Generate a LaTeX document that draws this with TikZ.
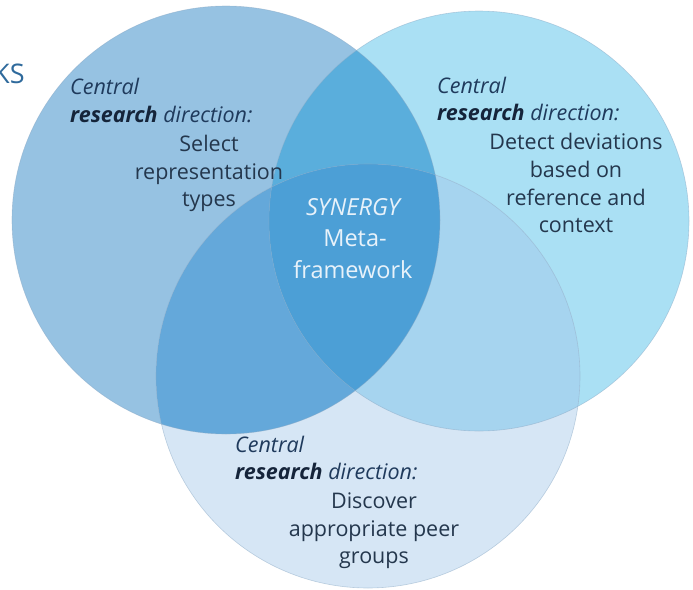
\documentclass[tikz,border=0pt]{standalone}
\usepackage{fontspec}
\setmainfont{Open Sans}
\definecolor{cL}{HTML}{96C2E2}
\definecolor{cR}{HTML}{AAE0F4}
\definecolor{cB}{HTML}{D6E6F5}
\definecolor{cLR}{HTML}{5AAEDC}
\definecolor{cLB}{HTML}{64A8DA}
\definecolor{cRB}{HTML}{A6D4EF}
\definecolor{cLRB}{HTML}{4C9FD6}
\definecolor{edge}{HTML}{8AA8C4}
\definecolor{navy}{HTML}{1F3A5C}
\definecolor{dark}{HTML}{15243A}
\definecolor{body}{HTML}{24374D}
\definecolor{head}{HTML}{2F6A9C}
\definecolor{wtext}{HTML}{E8F2FA}
\tikzset{
  lab/.style={inner sep=0pt, font=\fontsize{21.5}{25}\selectfont, text=body},
  hd/.style={lab, anchor=base west},
  ln/.style={lab, anchor=base},
  ctr/.style={inner sep=0pt, anchor=base, font=\fontsize{23.5}{27}\selectfont, text=wtext},
  rim/.style={draw=edge, line width=0.6pt, draw opacity=0.5}
}
\newcommand{\rdhead}{{\color{navy}\itshape Central}}
\newcommand{\rdline}{{\color{dark}\bfseries\itshape research} {\color{navy}\itshape direction:}}
\begin{document}
\begin{tikzpicture}[x=1pt,y=-1pt]
\useasboundingbox (0,0) rectangle (693,589);
\coordinate (L) at (226,220);
\coordinate (R) at (479,221);
\coordinate (B) at (368,376);
\def\rL{214pt}\def\rR{210pt}\def\rB{212pt}
% base circles
\fill[cL] (L) circle[radius=\rL];
\fill[cR] (R) circle[radius=\rR];
\fill[cB] (B) circle[radius=\rB];
% pairwise overlaps
\begin{scope}
  \clip (L) circle[radius=\rL];
  \fill[cLR] (R) circle[radius=\rR];
  \fill[cLB] (B) circle[radius=\rB];
\end{scope}
\begin{scope}
  \clip (R) circle[radius=\rR];
  \fill[cRB] (B) circle[radius=\rB];
\end{scope}
\begin{scope}
  \clip (L) circle[radius=\rL];
  \clip (R) circle[radius=\rR];
  \fill[cLRB] (B) circle[radius=\rB];
\end{scope}
% rims
\draw[rim] (L) circle[radius=\rL];
\draw[rim] (R) circle[radius=\rR];
\draw[rim] (B) circle[radius=\rB];
% clipped heading fragment
\node[inner sep=0pt, anchor=base west, text=head, font=\fontsize{27}{30}\selectfont] (ks) at (-7,83) {KS};
% left circle text
\node[hd] (l1) at (70,94) {\rdhead};
\node[hd] (l2) at (70,122) {\rdline};
\node[ln] (l3) at (209,151) {Select};
\node[ln] (l4) at (209,179) {representation};
\node[ln] (l5) at (209,206) {types};
% right circle text
\node[hd] (r1) at (437,93) {\rdhead};
\node[hd] (r2) at (437,120) {\rdline};
\node[ln] (r3) at (576,149) {Detect deviations};
\node[ln] (r4) at (576,177) {based on};
\node[ln] (r5) at (576,205) {reference and};
\node[ln] (r6) at (576,232) {context};
% bottom circle text
\node[hd] (b1) at (235,452) {\rdhead};
\node[hd] (b2) at (235,479) {\rdline};
\node[ln] (b3) at (374,508) {Discover};
\node[ln] (b4) at (374,536) {appropriate peer};
\node[ln] (b5) at (374,563) {groups};
% centre text
\node[ctr] (c1) at (353,215) {\itshape SYNERGY};
\node[ctr] (c2) at (355,246) {Meta-};
\node[ctr] (c3) at (353,278) {framework};
\end{tikzpicture}
\end{document}
